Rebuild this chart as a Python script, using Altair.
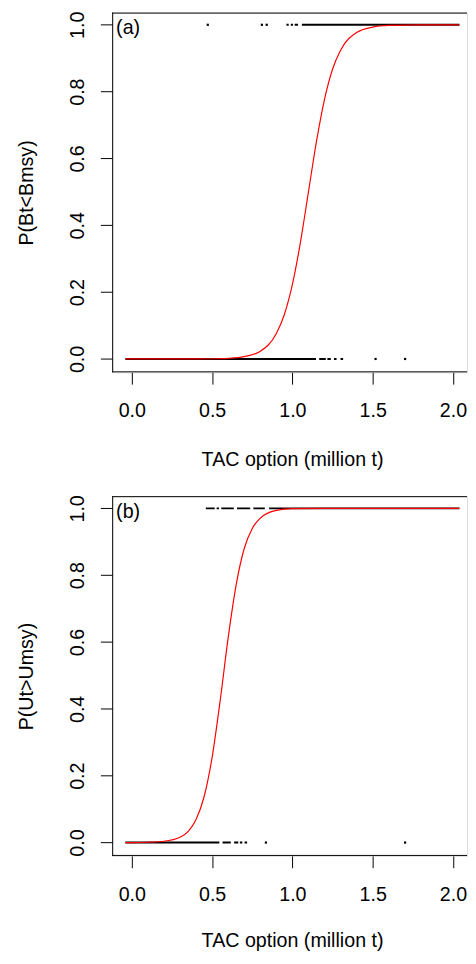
import altair as alt
import pandas as pd

FONT = "Liberation Sans"

# ---------------- Panel (a): P(Bt<Bmsy) ----------------
a_curve_x = [-0.04, 0.2, 0.4, 0.5, 0.6, 0.7, 0.8, 0.9, 0.95, 1.0, 1.05, 1.1,
             1.15, 1.2, 1.25, 1.3, 1.4, 1.5, 1.6, 1.8, 2.04]
a_curve_y = [0.0, 0.0, 0.0002, 0.0006, 0.002, 0.007, 0.023, 0.076, 0.133, 0.223,
             0.349, 0.5, 0.651, 0.777, 0.867, 0.924, 0.977, 0.993, 0.998, 1.0, 1.0]
# dense runs of observations (start, end, outcome)
a_seg_start = [0.963, 0.990, 1.014, 1.059, -0.04, 1.167, 1.218, 1.259, 1.300]
a_seg_end = [0.977, 1.004, 1.035, 2.04, 1.147, 1.208, 1.239, 1.275, 1.316]
a_seg_y = [1, 1, 1, 1, 0, 0, 0, 0, 0]
# isolated observations
a_pt_x = [0.473, 0.81, 0.84, 1.518, 1.702]
a_pt_y = [1, 1, 1, 0, 0]

# ---------------- Panel (b): P(Ut>Umsy) ----------------
b_curve_x = [-0.04, 0.0, 0.1, 0.2, 0.3, 0.35, 0.4, 0.45, 0.5, 0.55, 0.6, 0.65,
             0.7, 0.75, 0.8, 0.9, 1.0, 1.2, 1.6, 2.04]
b_curve_y = [0.0, 0.0, 0.001, 0.004, 0.016, 0.033, 0.069, 0.137, 0.255, 0.424,
             0.613, 0.772, 0.880, 0.940, 0.971, 0.994, 0.999, 1.0, 1.0, 1.0]
b_seg_start = [0.461, 0.528, 0.557, 0.655, 0.757, 0.855, -0.04, 0.565, 0.637, 0.673, 0.702]
b_seg_end = [0.516, 0.543, 0.635, 0.737, 0.828, 2.04, 0.545, 0.616, 0.663, 0.688, 0.718]
b_seg_y = [1, 1, 1, 1, 1, 1, 0, 0, 0, 0, 0]
b_pt_x = [0.835, 1.702]
b_pt_y = [0, 0]

x_ticks = [0.0, 0.5, 1.0, 1.5, 2.0]
y_ticks = [0.0, 0.2, 0.4, 0.6, 0.8, 1.0]

W = 361
H = 366
X_DOMAIN = [-0.1224, 2.0876]
Y_DOMAIN = [-0.04, 1.0365]
FS = 20


def panel(seg_start, seg_end, seg_y, pt_x, pt_y, cx, cy, label, ytitle, xtitle_pad):
    seg_df = pd.DataFrame({"x": seg_start, "x2": seg_end, "y": seg_y})
    pt_df = pd.DataFrame({"x": pt_x, "y": pt_y})
    cur_df = pd.DataFrame({"x": cx, "y": cy})

    xs = alt.Scale(domain=X_DOMAIN, nice=False, zero=False)
    ys = alt.Scale(domain=Y_DOMAIN, nice=False, zero=False)
    xaxis = alt.Axis(values=x_ticks, format=".1f", title="TAC option (million t)",
                     domain=False, grid=False, tickSize=12, tickColor="black",
                     tickWidth=1, labelPadding=17, labelFontSize=FS, labelFont=FONT,
                     labelColor="black", labelFlush=False, labelOverlap=False,
                     titleFont=FONT, titleFontSize=FS, titleFontWeight="normal",
                     titleColor="black", titlePadding=xtitle_pad, titleX=183)
    yaxis = alt.Axis(values=y_ticks, format=".1f", title=ytitle, domain=False,
                     grid=False, tickSize=12, tickColor="black", tickWidth=1,
                     labelAngle=270, labelAlign="center", labelBaseline="bottom",
                     labelPadding=13, labelFontSize=FS, labelFont=FONT,
                     labelColor="black", labelFlush=False, labelOverlap=False,
                     titleFont=FONT, titleFontSize=FS, titleFontWeight="normal",
                     titleColor="black", titlePadding=32)
    xe = alt.X("x:Q", scale=xs, axis=xaxis)
    ye = alt.Y("y:Q", scale=ys, axis=yaxis)

    segs = alt.Chart(seg_df).mark_rule(color="black", strokeWidth=2, strokeCap="butt",
                                       clip=True).encode(x=xe, x2="x2:Q", y=ye)
    pts = alt.Chart(pt_df).mark_square(size=5, color="black", opacity=1).encode(x=xe, y=ye)
    curve = alt.Chart(cur_df).mark_line(color="#ff0000", strokeWidth=1.2,
                                        interpolate="monotone", clip=True).encode(x=xe, y=ye)
    frame_left = alt.Chart().mark_rule(color="black", strokeWidth=1).encode(
        x=alt.value(0.5), y=alt.value(0), y2=alt.value(H))
    frame_top = alt.Chart().mark_rule(color="black", strokeWidth=1).encode(
        x=alt.value(0), x2=alt.value(W), y=alt.value(0.5))
    frame_bot = alt.Chart().mark_rule(color="black", strokeWidth=1).encode(
        x=alt.value(0), x2=alt.value(W), y=alt.value(H - 0.5))
    lab = alt.Chart().mark_text(text=label, align="left", baseline="middle",
                                font=FONT, fontSize=FS, color="black").encode(
        x=alt.value(4), y=alt.value(16))
    return alt.layer(segs, pts, curve, frame_left, frame_top, frame_bot, lab).properties(
        width=W, height=H)


pa = panel(a_seg_start, a_seg_end, a_seg_y, a_pt_x, a_pt_y, a_curve_x, a_curve_y,
           "(a)", "P(Bt<Bmsy)", 30)
pb = panel(b_seg_start, b_seg_end, b_seg_y, b_pt_x, b_pt_y, b_curve_x, b_curve_y,
           "(b)", "P(Ut>Umsy)", 27)

chart = alt.vconcat(pa, pb, spacing=24).properties(
    padding={"left": 8, "top": -5.6, "right": 0, "bottom": 0}
).configure_view(strokeWidth=0, stroke="transparent").configure(font=FONT, background="white")

chart.save("out.html", embed_options={"renderer": "svg", "actions": False})
